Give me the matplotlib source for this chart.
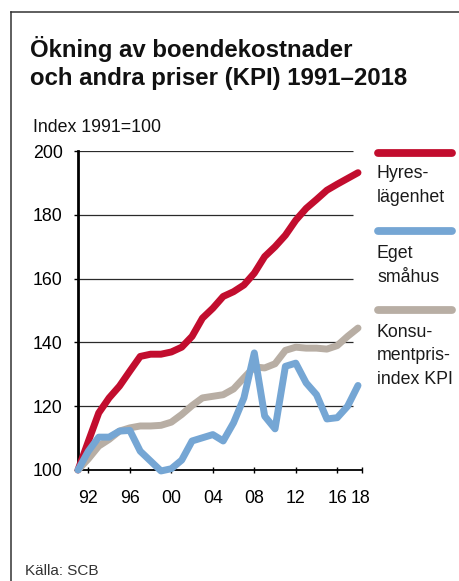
import matplotlib
matplotlib.use("Agg")
import matplotlib.pyplot as plt
from matplotlib.lines import Line2D
import matplotlib.transforms as mtransforms

plt.rcParams['font.family'] = ['Liberation Sans', 'DejaVu Sans']

years = list(range(1991, 2019))
hyres = [100, 109.0, 117.9, 122.6, 126.3, 131.0, 135.6, 136.3, 136.3, 137.0, 138.5,
         141.9, 147.6, 150.7, 154.4, 155.9, 158.0, 161.7, 166.9, 170.0, 173.6, 178.3,
         182.0, 184.8, 187.7, 189.6, 191.4, 193.2]
smahus = [100, 105.9, 110.3, 110.3, 112.2, 112.4, 105.9, 102.8, 99.7, 100.4, 103.1,
          109.1, 110.1, 111.1, 109.1, 114.8, 122.6, 136.7, 116.9, 112.9, 132.5, 133.5,
          127.3, 123.6, 116.0, 116.4, 120.0, 126.5]
kpi = [100, 103.5, 107.5, 109.6, 112.2, 113.2, 113.8, 113.8, 114.0, 115.0, 117.4,
       120.2, 122.6, 123.1, 123.6, 125.4, 128.9, 132.3, 132.0, 133.3, 137.5, 138.5,
       138.2, 138.2, 137.9, 139.0, 141.9, 144.5]

series_labels = ["Hyres-\nlägenhet", "Eget\nsmåhus", "Konsu-\nmentpris-\nindex KPI"]
colors = ["#C20D2E", "#75A6D4", "#B8AEA4"]
xtick_years = [1992, 1996, 2000, 2004, 2008, 2012, 2016, 2018]
xtick_labels = ["92", "96", "00", "04", "08", "12", "16", "18"]
yticks = [100, 120, 140, 160, 180, 200]

title = "Ökning av boendekostnader\noch andra priser (KPI) 1991–2018"
unit = "Index 1991=100"
source = "Källa: SCB"

W, H = 459, 581
fig = plt.figure(figsize=(W / 100, H / 100), dpi=100)
fig.patch.set_facecolor("white")

def fx(px):
    return px / W

def fy(py):
    return 1 - py / H

LBL = 12.8

# axes placement
ax_left, ax_right, ax_top, ax_bot = 78, 362, 151, 470
ax = fig.add_axes([fx(ax_left), fy(ax_bot), fx(ax_right - ax_left), (ax_bot - ax_top) / H])
x_end = 1991 + (ax_right - ax_left) / ((358 - 78) / 27)
ax.set_xlim(1991, x_end)
ax.set_ylim(100, 200)

# gridlines
ax.hlines(yticks[1:], 1991, 2017.5, colors="#2a2a2a", linewidth=0.9, zorder=1)

data = [hyres, kpi, smahus]
cols = [colors[0], colors[2], colors[1]]
for vals, c in zip(data, cols):
    ax.plot(years, vals, color=c, linewidth=5.0, solid_capstyle="round",
            solid_joinstyle="round", clip_on=False, zorder=3)

for s in ["top", "right"]:
    ax.spines[s].set_visible(False)
ax.spines["left"].set_linewidth(2.0)
ax.spines["left"].set_color("#000000")
ax.spines["bottom"].set_linewidth(1.3)
ax.spines["bottom"].set_color("#000000")

ax.set_yticks(yticks)
ax.set_yticklabels([str(v) for v in yticks])
ax.tick_params(axis="y", direction="out", length=3, width=1, pad=8,
               labelsize=LBL, colors="#000000")
xt = xtick_years[:-1] + [x_end]
ax.set_xticks(xt)
ax.set_xticklabels(xtick_labels)
ax.tick_params(axis="x", direction="inout", length=5, width=1, pad=12,
               labelsize=LBL, colors="#000000")
labs = ax.get_xticklabels()
offset = mtransforms.ScaledTranslation(-2 / 100, 0, fig.dpi_scale_trans)
labs[-1].set_transform(labs[-1].get_transform() + offset)

# legend
leg_y = [153, 231, 310]
leg_text_y = [178, 258, 337]
for c, ly, ty, lab in zip(colors, leg_y, leg_text_y, series_labels):
    fig.add_artist(Line2D([fx(378), fx(452)], [fy(ly), fy(ly)], color=c,
                          linewidth=5.6, solid_capstyle="round",
                          transform=fig.transFigure))
    for i, line in enumerate(lab.split("\n")):
        fig.text(fx(377), fy(ty + i * 23.5), line, fontsize=LBL,
                 va="baseline", ha="left", color="#1a1a1a")

# titles
t1, t2 = title.split("\n")
fig.text(fx(30), fy(57), t1, fontsize=17.3, fontweight="bold", va="baseline",
         ha="left", color="#111111")
fig.text(fx(30), fy(85), t2, fontsize=17.3, fontweight="bold", va="baseline",
         ha="left", color="#111111")
fig.text(fx(33), fy(131.5), unit, fontsize=LBL, va="baseline", ha="left",
         color="#111111")
fig.text(fx(25), fy(575), source, fontsize=11, va="baseline", ha="left",
         color="#333333")

# frame
fig.add_artist(Line2D([fx(10.5), 1.0], [fy(11.5), fy(11.5)], color="#333333",
                      linewidth=1.1, transform=fig.transFigure))
fig.add_artist(Line2D([fx(10.5), fx(10.5)], [fy(11.5), 0.0], color="#333333",
                      linewidth=1.1, transform=fig.transFigure))

fig.savefig("out.png", dpi=100)
